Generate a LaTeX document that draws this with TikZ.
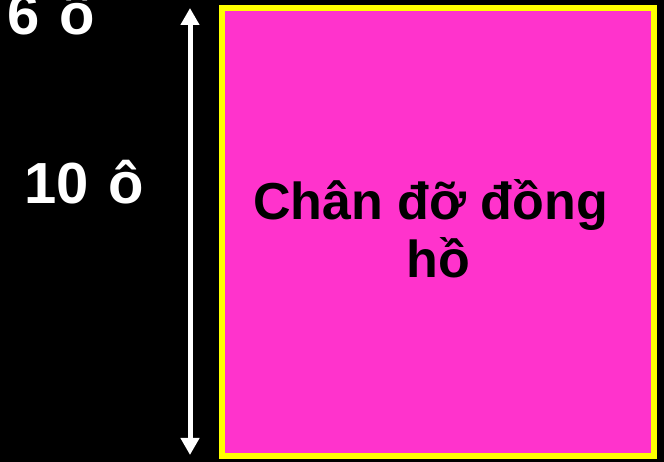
\documentclass[tikz,border=0pt]{standalone}
\usepackage{fontspec}
\setmainfont{Liberation Sans}
\usepackage{xcolor}
\usepackage{tikz}
\usetikzlibrary{
    arrows.meta,
    positioning
}
\definecolor{standpink}{HTML}{FF33CC}
\definecolor{standyellow}{HTML}{FFFF00}
\tikzstyle{standbox}=[
    rectangle,
    minimum width=432pt,
    minimum height=448pt,
    align=center,
    draw=standyellow,
    fill=standpink,
    line width=6pt,
    inner sep=0pt,
    font=\fontsize{52}{58}\selectfont\bfseries,
    text=black
]
\tikzstyle{arrow}=[line width=5pt,draw=white,
    {Triangle[length=17pt,width=18pt]}-{Triangle[length=17pt,width=18pt]}]

\begin{document}
\begin{tikzpicture}[
    x=1pt,y=1pt,
    unit/.style={text=white,font=\fontsize{58}{62}\selectfont\bfseries,
    inner sep=0pt,anchor=base}
]
\clip (0,0) rectangle (664,462);
\fill[black] (0,0) rectangle (664,462);
\node[standbox,text depth=0pt] (stand) at (438,230) {};
\node[font=\fontsize{52}{58}\selectfont\bfseries,align=center,inner sep=0pt]
    (label) at (438,233) {Chân đỡ đồng\hspace*{0.28em}\\hồ};
\coordinate (top) at (190,454);
\coordinate (bottom) at (190,7);
\draw[arrow] (top) -- (bottom);
\node[unit] (height) at (84,258) {10\hspace{0.34em}ô};
\node[unit] (width) at (51,427) {6\hspace{0.34em}ô};
\end{tikzpicture}
\end{document}
